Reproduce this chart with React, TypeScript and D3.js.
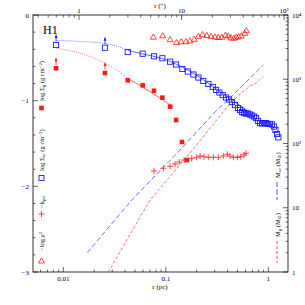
import * as d3 from "d3";
import React from "react";

// radius in pc, plotted values
const gasR = [0.00849, 0.0255, 0.0425, 0.0595, 0.0767, 0.0925, 0.11, 0.126, 0.144, 0.161];
const gasV = [-0.622, -0.677, -0.762, -0.821, -0.884, -0.965, -1.07, -1.226, -1.482, -1.693];

const scR = [0.00849, 0.0255, 0.0425, 0.0595, 0.0767, 0.0925, 0.11, 0.126, 0.145, 0.164, 0.186, 0.208, 0.232, 0.26, 0.287, 0.309, 0.333, 0.359, 0.387, 0.414, 0.442, 0.473, 0.506, 0.53, 0.554, 0.579, 0.606, 0.634, 0.663, 0.693, 0.725, 0.759, 0.793, 0.83, 0.868, 0.908, 0.95, 0.993, 1.039, 1.087, 1.137, 1.175, 1.216, 1.252];
const scV = [-0.35, -0.382, -0.432, -0.452, -0.482, -0.505, -0.545, -0.578, -0.63, -0.66, -0.695, -0.73, -0.77, -0.805, -0.84, -0.875, -0.905, -0.934, -0.963, -0.986, -1.016, -1.051, -1.086, -1.109, -1.132, -1.144, -1.15, -1.15, -1.161, -1.173, -1.185, -1.202, -1.237, -1.261, -1.267, -1.261, -1.261, -1.272, -1.272, -1.278, -1.302, -1.342, -1.389, -1.428];

// first two points are lower limits
const limitIdx = [0, 1];

const kR = [0.0767, 0.0945, 0.11, 0.123, 0.135, 0.151, 0.179, 0.2, 0.216, 0.236, 0.26, 0.291, 0.325, 0.364, 0.398, 0.423, 0.456, 0.498, 0.538, 0.579, 0.606];
const kV = [-1.821, -1.789, -1.766, -1.739, -1.716, -1.693, -1.673, -1.661, -1.646, -1.654, -1.661, -1.661, -1.661, -1.646, -1.626, -1.646, -1.661, -1.661, -1.654, -1.634, -1.614];

const chiR = [0.0755, 0.0933, 0.11, 0.127, 0.141, 0.157, 0.172, 0.189, 0.208, 0.228, 0.251, 0.276, 0.302, 0.325, 0.351, 0.382, 0.407, 0.431, 0.461, 0.486, 0.513, 0.545, 0.589, 0.61];
const chiV = [-0.259, -0.243, -0.288, -0.323, -0.313, -0.312, -0.301, -0.284, -0.249, -0.23, -0.239, -0.249, -0.257, -0.263, -0.26, -0.237, -0.245, -0.266, -0.272, -0.26, -0.254, -0.245, -0.214, -0.183];

// model curves (dotted inner part, solid outer part)
const scFitInR = [0.00862, 0.01455, 0.0255, 0.0342, 0.0428];
const scFitInV = [-0.298, -0.309, -0.333, -0.368, -0.414];
const scFitR = [0.0428, 0.0599, 0.0918, 0.144, 0.231, 0.353, 0.53, 0.634];
const scFitV = [-0.414, -0.455, -0.508, -0.607, -0.753, -0.91, -1.056, -1.121];

const gasFitInR = [0.00862, 0.01455, 0.0255, 0.0342, 0.0418];
const gasFitInV = [-0.389, -0.447, -0.564, -0.654, -0.735];
const gasFitR = [0.0418, 0.0702, 0.0939, 0.1175];
const gasFitV = [-0.735, -0.895, -0.992, -1.074];

// enclosed masses (right axis)
const mscR = [0.01715, 0.0465, 0.1376, 0.302, 0.53, 0.894];
const mscM = [2.0, 13.2, 79, 309, 731, 1667];
const mgR = [0.0275, 0.0701, 0.1855, 0.404, 0.53, 0.663, 0.759, 0.894];
const mgM = [1.0, 13.2, 82, 383, 589, 785, 874, 1096];

const leftTicks = [0, -1, -2, -3];
const leftLabels = ["0", "−1", "−2", "−3"];
const bottomLabels = ["0.01", "0.1", "1"];
const topLabels = ["1", "10", "10²"];
const rightLabels = ["1", "10", "10²", "10³", "10⁴"];

const PC_PER_ARCSEC = 0.01423;

const BLUE = "#1a1aff";
const RED = "#ff1a1a";
const FONT = "Liberation Serif, DejaVu Serif, serif";

const zip = (a: number[], b: number[]) => a.map((v, i) => [v, b[i]] as [number, number]);
const isDecade = (t: number) => Math.abs(Math.log10(t) - Math.round(Math.log10(t))) < 1e-6;

export default function App() {
  const L = 33, R = 288, T = 15, B = 272;

  const x = d3.scaleLog().domain([0.00506, 1.556]).range([L, R]);
  const xa = d3.scaleLog().domain([0.00506 / PC_PER_ARCSEC, 1.556 / PC_PER_ARCSEC]).range([L, R]);
  const y = d3.scaleLinear().domain([-3, 0]).range([B, T]);
  const yM = d3.scaleLog().domain([1, 1e4]).range([B, T]);

  const line = d3.line<[number, number]>().x((d) => x(d[0])).y((d) => y(d[1])).curve(d3.curveMonotoneX);
  const mline = d3.line<[number, number]>().x((d) => x(d[0])).y((d) => yM(d[1]));

  const bottomTicks = x.ticks();
  const topTicks = xa.ticks();
  const rightTicks = yM.ticks();
  const leftMinor = d3.range(-3, 0.001, 0.2);

  const bMaj = bottomTicks.filter(isDecade);
  const tMaj = topTicks.filter(isDecade);
  const rMaj = rightTicks.filter(isDecade);

  const sq = 5.2;
  const fs = 7;
  const lfs = 6.5;

  return (
    <svg width={305} height={305} style={{ position: "absolute", left: 0, top: 0, background: "#fff" }} fontFamily={FONT}>
      <rect x={0} y={0} width={305} height={305} fill="#fff" />

      {/* frame */}
      <rect x={L} y={T} width={R - L} height={B - T} fill="none" stroke="#000" strokeWidth={0.8} />

      {/* bottom / top ticks */}
      {bottomTicks.map((t, i) => {
        const len = isDecade(t) ? 5 : 2.5;
        return <line key={"b" + i} x1={x(t)} x2={x(t)} y1={B} y2={B - len} stroke="#000" strokeWidth={0.6} />;
      })}
      {bMaj.map((t, i) => (
        <text key={"bl" + i} x={x(t)} y={B + 8.5} fontSize={fs} textAnchor="middle">{bottomLabels[i]}</text>
      ))}
      <text x={160} y={B + 17} fontSize={fs} textAnchor="middle">r (pc)</text>

      {topTicks.map((t, i) => {
        const len = isDecade(t) ? 5 : 2.5;
        return <line key={"t" + i} x1={xa(t)} x2={xa(t)} y1={T} y2={T + len} stroke="#000" strokeWidth={0.6} />;
      })}
      {tMaj.map((t, i) => (
        <text key={"tl" + i} x={xa(t)} y={T - 2} fontSize={fs} textAnchor="middle">{topLabels[i]}</text>
      ))}
      <text x={160} y={8} fontSize={fs} textAnchor="middle">r (″)</text>

      {/* left axis */}
      {leftMinor.map((t, i) => {
        const major = Math.abs(t - Math.round(t)) < 1e-6;
        return <line key={"lm" + i} x1={L} x2={L + (major ? 5 : 2.5)} y1={y(t)} y2={y(t)} stroke="#000" strokeWidth={0.6} />;
      })}
      {leftTicks.map((t, i) => (
        <text key={"ll" + i} x={L - 4} y={y(t) + 2.5} fontSize={fs} textAnchor="end">{leftLabels[i]}</text>
      ))}

      {/* right axis */}
      {rightTicks.map((t, i) => {
        const len = isDecade(t) ? 5 : 2.5;
        return <line key={"r" + i} x1={R} x2={R - len} y1={yM(t)} y2={yM(t)} stroke="#000" strokeWidth={0.6} />;
      })}
      {rMaj.map((t, i) => (
        <text key={"rl" + i} x={R + 4} y={yM(t) + 2.5} fontSize={fs} textAnchor="start">{rightLabels[i]}</text>
      ))}

      <defs>
        <clipPath id="plot">
          <rect x={L} y={T} width={R - L} height={B - T} />
        </clipPath>
      </defs>

      <g clipPath="url(#plot)">
        {/* mass profiles */}
        <path d={mline(zip(mscR, mscM)) || ""} fill="none" stroke={BLUE} strokeWidth={0.8} strokeDasharray="5,2.5" opacity={0.8} />
        <path d={mline(zip(mgR, mgM)) || ""} fill="none" stroke={RED} strokeWidth={0.8} strokeDasharray="3,2" opacity={0.8} />

        {/* model fits */}
        <path d={line(zip(scFitInR, scFitInV)) || ""} fill="none" stroke={BLUE} strokeWidth={0.7} strokeDasharray="0.8,1.2" />
        <path d={line(zip(scFitR, scFitV)) || ""} fill="none" stroke={BLUE} strokeWidth={0.7} />
        <path d={line(zip(gasFitInR, gasFitInV)) || ""} fill="none" stroke={RED} strokeWidth={0.7} strokeDasharray="0.8,1.2" />
        <path d={line(zip(gasFitR, gasFitV)) || ""} fill="none" stroke={RED} strokeWidth={0.7} />

        {/* blue open squares */}
        {scR.map((r, i) => (
          <rect key={"sc" + i} x={x(r) - sq / 2} y={y(scV[i]) - sq / 2} width={sq} height={sq} fill="none" stroke={BLUE} strokeWidth={0.9} />
        ))}

        {/* red filled squares */}
        {gasR.map((r, i) => (
          <rect key={"g" + i} x={x(r) - 2.3} y={y(gasV[i]) - 2.3} width={4.6} height={4.6} fill={RED} />
        ))}

        {/* lower-limit arrows */}
        {limitIdx.map((i) => {
          const cxs = x(scR[i]), cys = y(scV[i]);
          const cxg = x(gasR[i]), cyg = y(gasV[i]);
          return (
            <g key={"a" + i}>
              <line x1={cxs} x2={cxs} y1={cys - 3.5} y2={cys - 8} stroke={BLUE} strokeWidth={0.8} />
              <path d={`M${cxs},${cys - 11}L${cxs - 1.5},${cys - 7}L${cxs + 1.5},${cys - 7}Z`} fill={BLUE} />
              <line x1={cxg} x2={cxg} y1={cyg - 3.5} y2={cyg - 8} stroke={RED} strokeWidth={0.8} />
              <path d={`M${cxg},${cyg - 11}L${cxg - 1.5},${cyg - 7}L${cxg + 1.5},${cyg - 7}Z`} fill={RED} />
            </g>
          );
        })}

        {/* -k crosses */}
        {kR.map((r, i) => {
          const cx = x(r), cy = y(kV[i]);
          return (
            <g key={"k" + i} stroke={RED} strokeWidth={0.8}>
              <line x1={cx - 3} x2={cx + 3} y1={cy} y2={cy} />
              <line x1={cx} x2={cx} y1={cy - 3} y2={cy + 3} />
            </g>
          );
        })}

        {/* -log chi2 triangles */}
        {chiR.map((r, i) => {
          const cx = x(r), cy = y(chiV[i]);
          return <path key={"c" + i} d={`M${cx},${cy - 3.2}L${cx + 3},${cy + 2}L${cx - 3},${cy + 2}Z`} fill="none" stroke={RED} strokeWidth={0.8} />;
        })}
      </g>

      {/* label */}
      <text x={43} y={34} fontSize={12}>H1</text>

      {/* left legend */}
      <rect x={41.5 - 2.3} y={108 - 2.3} width={4.6} height={4.6} fill={RED} />
      <text transform="translate(43.8,101) rotate(-90)" fontSize={lfs}>
        log Σ<tspan dy={1.5} fontSize={4.8}>g</tspan><tspan dy={-1.5}> (g cm</tspan><tspan dy={-2} fontSize={4.8}>−2</tspan><tspan dy={2}>)</tspan>
      </text>

      <rect x={41.5 - 2.5} y={178 - 2.5} width={5} height={5} fill="none" stroke={BLUE} strokeWidth={0.9} />
      <text transform="translate(43.8,171) rotate(-90)" fontSize={lfs}>
        log Σ<tspan dy={1.5} fontSize={4.8}>sc</tspan><tspan dy={-1.5}> (g cm</tspan><tspan dy={-2} fontSize={4.8}>−2</tspan><tspan dy={2}>)</tspan>
      </text>

      <g stroke={RED} strokeWidth={0.8}>
        <line x1={38.5} x2={44.5} y1={214} y2={214} />
        <line x1={41.5} x2={41.5} y1={211} y2={217} />
      </g>
      <text transform="translate(43.8,208) rotate(-90)" fontSize={lfs}>
        −k<tspan dy={1.5} fontSize={4.8}>ρd</tspan>
      </text>

      <path d="M41.5,257.8L44.5,263L38.5,263Z" fill="none" stroke={RED} strokeWidth={0.8} />
      <text transform="translate(43.8,251) rotate(-90)" fontSize={lfs}>
        −log χ<tspan dy={-2} fontSize={4.8}>2</tspan>
      </text>

      {/* right legend */}
      <text transform="translate(279.8,178) rotate(-90)" fontSize={lfs}>
        M<tspan dy={1.5} fontSize={4.8}>sc</tspan><tspan dy={-1.5}> (M</tspan><tspan dy={1.5} fontSize={4.8}>⊙</tspan><tspan dy={-1.5}>)</tspan>
      </text>
      <line x1={277} x2={277} y1={182} y2={200} stroke={BLUE} strokeWidth={0.8} strokeDasharray="5,2.5" />
      <text transform="translate(279.8,237) rotate(-90)" fontSize={lfs}>
        M<tspan dy={1.5} fontSize={4.8}>g</tspan><tspan dy={-1.5}> (M</tspan><tspan dy={1.5} fontSize={4.8}>⊙</tspan><tspan dy={-1.5}>)</tspan>
      </text>
      <line x1={277} x2={277} y1={241} y2={263} stroke={RED} strokeWidth={0.8} strokeDasharray="3,2" />
    </svg>
  );
}
